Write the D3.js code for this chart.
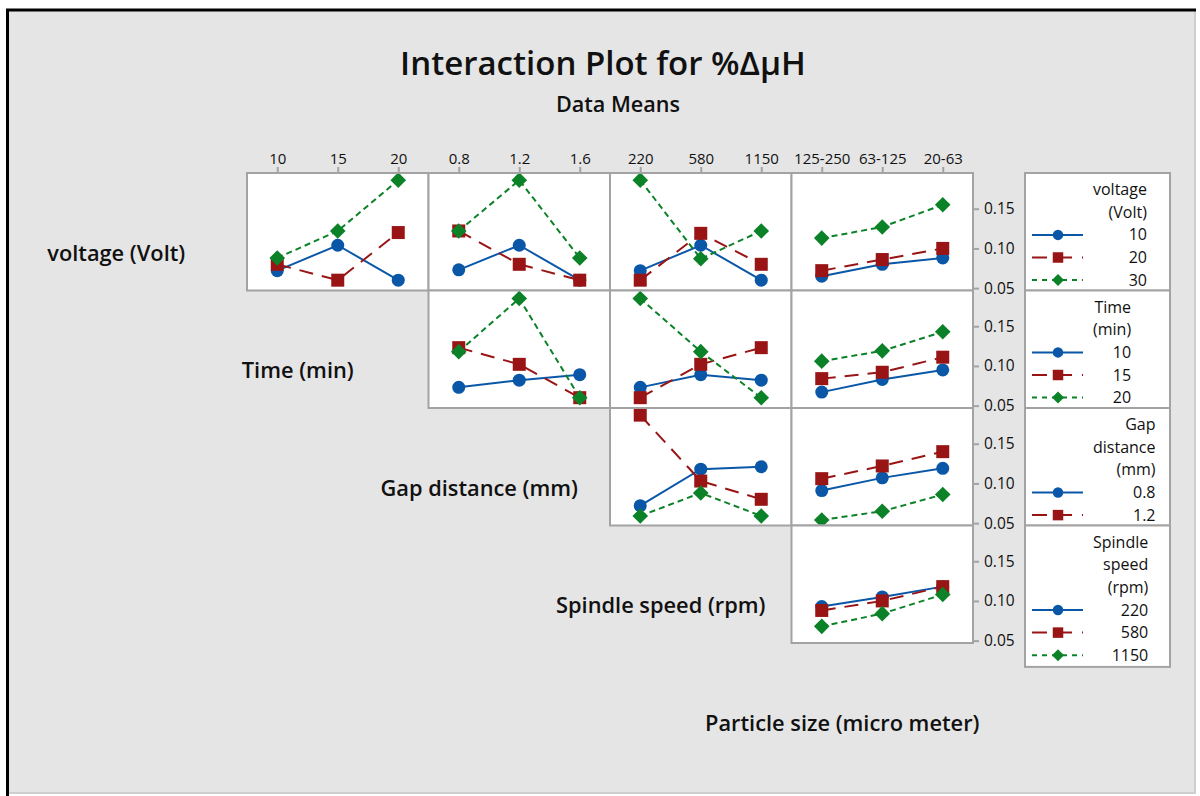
<!DOCTYPE html>
<html><head><meta charset="utf-8">
<script src="https://cdn.jsdelivr.net/npm/d3@7"></script>
<style>
html,body{margin:0;padding:0;background:#fff;}
svg text{font-family:"Open Sans","Noto Sans",sans-serif;fill:#111;}
</style></head>
<body><svg id="c" width="1200" height="796"></svg>
<script>
// ---------- DATA ----------
const title = "Interaction Plot for %ΔμH";
const subtitle = "Data Means";
const factorNames = ["voltage (Volt)", "Time (min)", "Gap distance (mm)", "Spindle speed (rpm)", "Particle size (micro meter)"];
const legendTitles = [["voltage", "(Volt)"], ["Time", "(min)"], ["Gap", "distance", "(mm)"], ["Spindle", "speed", "(rpm)"]];
const voltageLevels = ["10", "20", "30"];
const timeLevels = ["10", "15", "20"];
const gapLevels = ["0.8", "1.2", "1.6"];
const spindleLevels = ["220", "580", "1150"];
const particleLevels = ["125-250", "63-125", "20-63"];
const yTicks = [0.05, 0.10, 0.15];

// rows = legend factor levels, values along the x factor levels
const voltageByTime     = [[0.072, 0.104, 0.060], [0.080, 0.060, 0.120], [0.088, 0.122, 0.186]];
const voltageByGap      = [[0.073, 0.104, 0.060], [0.122, 0.080, 0.060], [0.122, 0.186, 0.088]];
const voltageBySpindle  = [[0.072, 0.104, 0.060], [0.060, 0.119, 0.080], [0.186, 0.087, 0.122]];
const voltageByParticle = [[0.065, 0.080, 0.088], [0.072, 0.086, 0.100], [0.113, 0.127, 0.155]];
const timeByGap         = [[0.073, 0.082, 0.089], [0.123, 0.102, 0.060], [0.118, 0.185, 0.060]];
const timeBySpindle     = [[0.073, 0.089, 0.082], [0.060, 0.102, 0.123], [0.185, 0.118, 0.060]];
const timeByParticle    = [[0.067, 0.083, 0.095], [0.084, 0.092, 0.111], [0.106, 0.119, 0.143]];
const gapBySpindle      = [[0.072, 0.118, 0.121], [0.186, 0.103, 0.080], [0.059, 0.088, 0.059]];
const gapByParticle     = [[0.091, 0.107, 0.119], [0.106, 0.122, 0.140], [0.054, 0.065, 0.086]];
const spindleByParticle = [[0.093, 0.105, 0.118], [0.088, 0.100, 0.118], [0.068, 0.084, 0.108]];

const xLevels = [timeLevels, gapLevels, spindleLevels, particleLevels];
const legendLevels = [voltageLevels, timeLevels, gapLevels, spindleLevels];
const panels = [
  [voltageByTime, voltageByGap, voltageBySpindle, voltageByParticle],
  [null, timeByGap, timeBySpindle, timeByParticle],
  [null, null, gapBySpindle, gapByParticle],
  [null, null, null, spindleByParticle]
];

// ---------- STYLE ----------
const colors = ["#0a57a8", "#991515", "#0c8228"];
const dashes = [null, "14,9", "6,4"];
const shapes = ["circle", "square", "diamond"];

const svg = d3.select("#c");
svg.append("rect").attr("x", 7).attr("y", 9).attr("width", 1189).attr("height", 785).attr("fill", "#e5e5e5");
svg.append("line").attr("x1", 1195).attr("x2", 1195).attr("y1", 9).attr("y2", 794).attr("stroke", "#cfcfcf").attr("stroke-width", 2);
svg.append("line").attr("x1", 7).attr("x2", 1196).attr("y1", 793).attr("y2", 793).attr("stroke", "#cfcfcf").attr("stroke-width", 2);
svg.append("line").attr("x1", 7.5).attr("x2", 7.5).attr("y1", 9).attr("y2", 796).attr("stroke", "#000").attr("stroke-width", 3);
svg.append("line").attr("x1", 6).attr("x2", 1196).attr("y1", 10).attr("y2", 10).attr("stroke", "#000").attr("stroke-width", 3);

svg.append("text").attr("x", 603).attr("y", 75).attr("text-anchor", "middle")
  .attr("font-size", 33).attr("font-weight", 600).text(title);
svg.append("text").attr("x", 618).attr("y", 112).attr("text-anchor", "middle")
  .attr("font-size", 21.6).attr("font-weight", 600).text(subtitle);

const x0 = 247, colW = 181.5, y0 = 173, rowH = 117.5;
const y = d3.scaleLinear().domain([0.047, 0.195]).range([rowH, 0]);

function marker(g, shape, cx, cy, s, color) {
  if (shape === "circle") {
    g.append("circle").attr("cx", cx).attr("cy", cy).attr("r", s * 0.5).attr("fill", color);
  } else if (shape === "square") {
    g.append("rect").attr("x", cx - s * 0.5).attr("y", cy - s * 0.5).attr("width", s).attr("height", s).attr("fill", color);
  } else {
    const h = s * 0.6;
    g.append("path").attr("d", `M${cx},${cy - h}L${cx + h},${cy}L${cx},${cy + h}L${cx - h},${cy}Z`).attr("fill", color);
  }
}

for (let i = 0; i < 4; i++) {
  for (let j = i; j < 4; j++) {
    const data = panels[i][j];
    const px = x0 + j * colW, py = y0 + i * rowH;
    const x = d3.scalePoint().domain(xLevels[j]).range([0, colW]).padding(0.5);
    const g = svg.append("g").attr("transform", `translate(${px},${py})`);
    g.append("rect").attr("width", colW).attr("height", rowH).attr("fill", "#fff");
    data.forEach((vals, k) => {
      const pts = vals.map((v, m) => [x(xLevels[j][m]), y(v)]);
      g.append("path").attr("d", d3.line()(pts)).attr("fill", "none")
        .attr("stroke", colors[k]).attr("stroke-width", 2).attr("stroke-dasharray", dashes[k]);
    });
    data.forEach((vals, k) => {
      vals.forEach((v, m) => marker(g, shapes[k], x(xLevels[j][m]), y(v), 13, colors[k]));
    });
    g.append("rect").attr("width", colW).attr("height", rowH).attr("fill", "none")
      .attr("stroke", "#a3a3a3").attr("stroke-width", 2);
    if (i === 0) {
      const ax = g.append("g").call(d3.axisTop(x).tickSize(6).tickPadding(3));
      ax.select(".domain").remove();
      ax.selectAll("line").attr("stroke", "#a3a3a3").attr("stroke-width", 2);
      ax.selectAll("text").attr("font-size", 15).attr("font-family", "Open Sans").attr("fill", "#111");
    }
    if (j === 3) {
      const ay = g.append("g").attr("transform", `translate(${colW},0)`)
        .call(d3.axisRight(y).tickValues(yTicks).tickFormat(d3.format(".2f")).tickSize(6).tickPadding(5));
      ay.select(".domain").remove();
      ay.selectAll("line").attr("stroke", "#a3a3a3").attr("stroke-width", 2);
      ay.selectAll("text").attr("font-size", 15.5).attr("font-family", "Open Sans").attr("fill", "#111");
    }
  }
}

// row / column factor labels
factorNames.forEach((name, i) => {
  const cx = x0 + (i - 1) * colW + colW / 2 - 40;
  const cy = y0 + i * rowH + rowH / 2 + 22;
  svg.append("text").attr("x", cx).attr("y", cy + 7).attr("text-anchor", "middle")
    .attr("font-size", 21.8).attr("font-weight", 600).text(name);
});

// legends
const lx = 1025, lw = 145, lineH = 22.6;
legendTitles.forEach((tl, i) => {
  const top = y0 + i * rowH;
  const n = tl.length + legendLevels[i].length;
  const h = i === 3 ? 16.7 + (n - 1) * lineH + 11.7 : rowH;
  const g = svg.append("g");
  g.append("rect").attr("x", lx).attr("y", top).attr("width", lw).attr("height", h).attr("fill", "#fff");
  const lines = tl.map(t => ({t, k: -1})).concat(legendLevels[i].map((t, k) => ({t, k})))
    .filter((d, m) => top + 16.7 + m * lineH + 7 <= top + h);
  const texts = lines.map((d, m) => g.append("text").attr("y", top + 16.7 + m * lineH + 5.5)
    .attr("font-size", 16).attr("font-weight", 500).attr("text-anchor", "end").text(d.t));
  let maxW = 0;
  texts.forEach(t => { maxW = Math.max(maxW, t.node().getComputedTextLength()); });
  texts.forEach(t => t.attr("x", 1093 + maxW));
  lines.forEach((d, m) => {
    if (d.k < 0) return;
    const cy = top + 16.7 + m * lineH;
    g.append("line").attr("x1", 1032).attr("x2", 1083).attr("y1", cy).attr("y2", cy)
      .attr("stroke", colors[d.k]).attr("stroke-width", 2).attr("stroke-dasharray", d.k === 1 ? "15,10" : d.k === 2 ? "5,5" : null);
    marker(g, shapes[d.k], 1058, cy, d.k === 2 ? 10 : 10.5, colors[d.k]);
  });
  svg.append("rect").attr("x", lx).attr("y", top).attr("width", lw).attr("height", h)
    .attr("fill", "none").attr("stroke", "#a3a3a3").attr("stroke-width", 2);
});
</script></body></html>
